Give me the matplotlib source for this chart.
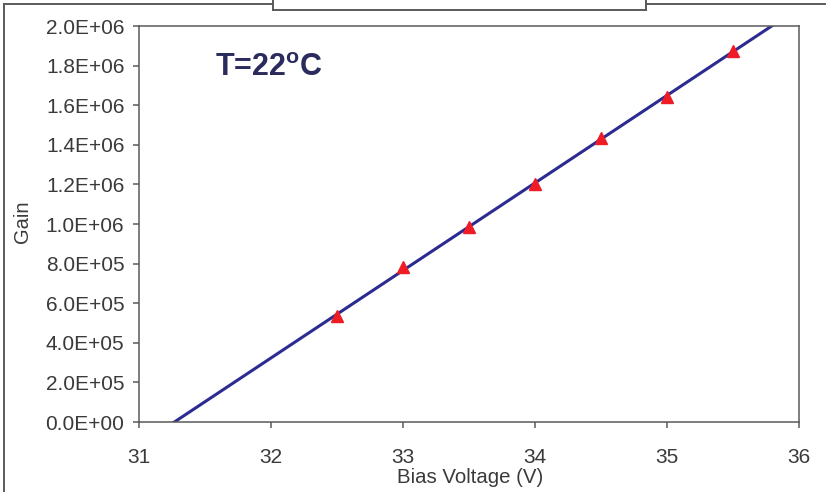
import numpy as np
import matplotlib
matplotlib.use("Agg")
import matplotlib.pyplot as plt
from matplotlib.lines import Line2D

plt.rcParams['font.family'] = ['Liberation Sans', 'DejaVu Sans']
plt.rcParams['mathtext.fontset'] = 'custom'
plt.rcParams['mathtext.rm'] = 'Liberation Sans'
plt.rcParams['mathtext.bf'] = 'Liberation Sans:bold'

# Measured gain at each bias voltage (T = 22 C)
bias_voltage = [32.5, 33.0, 33.5, 34.0, 34.5, 35.0, 35.5]
gain = [5.33e5, 7.83e5, 9.85e5, 1.202e6, 1.434e6, 1.641e6, 1.874e6]

x_ticks = [31, 32, 33, 34, 35, 36]
y_ticks = [0, 2e5, 4e5, 6e5, 8e5, 1e6, 1.2e6, 1.4e6, 1.6e6, 1.8e6, 2e6]
y_tick_labels = ['0.0E+00', '2.0E+05', '4.0E+05', '6.0E+05', '8.0E+05', '1.0E+06',
                 '1.2E+06', '1.4E+06', '1.6E+06', '1.8E+06', '2.0E+06']

W, H = 826, 492
fig = plt.figure(figsize=(W / 100, H / 100), dpi=100)
fig.patch.set_facecolor('white')


def fx(px):
    return px / W


def fy(py):
    return 1 - py / H


AX_L, AX_R, AX_T, AX_B = 139, 799, 26, 422
ax = fig.add_axes([fx(AX_L), fy(AX_B), fx(AX_R) - fx(AX_L), fy(AX_T) - fy(AX_B)])

# Linear trend line through the measurements
slope, intercept = np.polyfit(bias_voltage, gain, 1)
xs = np.array([31.0, 36.0])
ax.plot(xs, slope * xs + intercept, color='#2b2b92', lw=2.2, zorder=2)
ax.plot(bias_voltage, gain, linestyle='none', marker='^', ms=8,
        color='#ee1c25', mec='#ee1c25', zorder=3)

ax.set_xlim(31, 36)
ax.set_ylim(0, 2e6)
ax.set_xticks(x_ticks)
ax.set_xticklabels([str(t) for t in x_ticks])
ax.set_yticks(y_ticks)
ax.set_yticklabels(y_tick_labels)

for s in ax.spines.values():
    s.set_color('#5a5a5a')
    s.set_linewidth(1.1)
ax.tick_params(direction='out', length=4.5, width=1.1, color='#5a5a5a',
               labelsize=15, labelcolor='#3a3a3a')
ax.tick_params(axis='y', pad=6)
ax.tick_params(axis='x', pad=14)

ax.set_xlabel('Bias Voltage (V)', fontsize=14.7, color='#3a3a3a')
ax.xaxis.set_label_coords(0.501, -0.116)
ax.set_ylabel('Gain', fontsize=14.5, color='#3a3a3a')
ax.yaxis.set_label_coords((32 - AX_L) / (AX_R - AX_L), (AX_B - 222) / (AX_B - AX_T))

fig.text(fx(215), fy(76), r'T=22$^{\mathbf{o}}$C', fontsize=22, fontweight='bold',
         color='#2b2b5e', ha='left', va='baseline')

# Outer frame with the header box at the top
frame_col = '#5a5a5a'
segments = [
    ([4, 4], [4, H]),
    ([4, 273], [4, 4]),
    ([273, 273], [0, 10]),
    ([273, 646], [10, 10]),
    ([646, 646], [0, 10]),
    ([646, W], [4, 4]),
]
for xs_px, ys_px in segments:
    fig.add_artist(Line2D([fx(v) for v in xs_px], [fy(v) for v in ys_px],
                          color=frame_col, lw=1.4, transform=fig.transFigure))

fig.savefig('out.png', dpi=100, facecolor='white')
